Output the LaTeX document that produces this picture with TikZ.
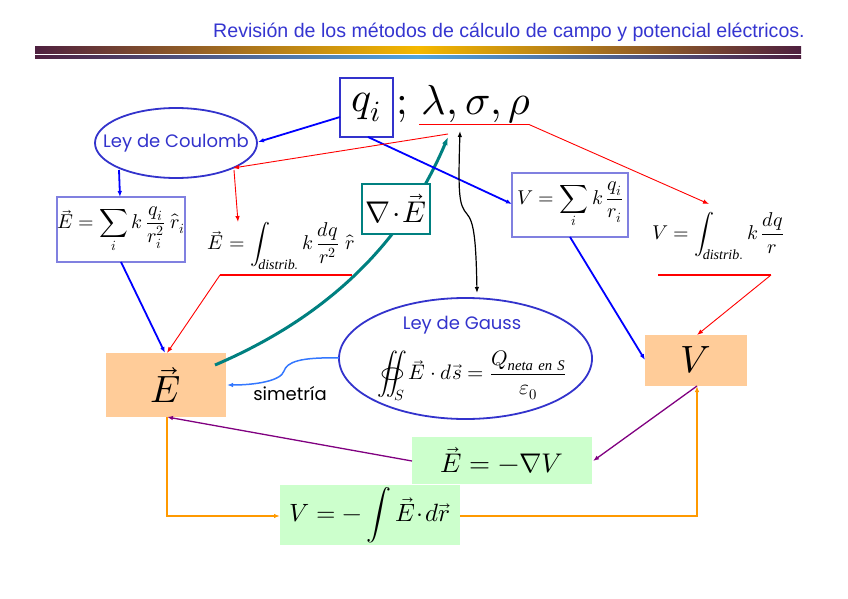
\documentclass[tikz,border=0pt]{standalone}
\usepackage{fontspec}
\usepackage{unicode-math}
\setmainfont{Liberation Serif}
\setmathfont{Latin Modern Math}
\newfontfamily\arialf{Liberation Sans}
\newfontfamily\comicf{Poppins}
\usetikzlibrary{arrows.meta,shapes.geometric}
\definecolor{titleblue}{HTML}{3535D0}
\definecolor{boxblue}{HTML}{3333CC}
\definecolor{lightboxblue}{HTML}{8080E0}
\definecolor{barpurple}{HTML}{4E2040}
\definecolor{bargold}{HTML}{F5B800}
\definecolor{barblue}{HTML}{4FA3E0}
\definecolor{tealc}{HTML}{008080}
\definecolor{orangefill}{HTML}{FFCC99}
\definecolor{greenfill}{HTML}{CCFFCC}
\definecolor{purplec}{HTML}{800080}
\definecolor{orangec}{HTML}{FF9900}
\definecolor{simblue}{HTML}{3377FF}
\tikzset{
  tip/.style={-{Latex[length=6pt,width=4.5pt]}},
  bluearr/.style={tip, draw=blue, line width=1.8pt},
  redarr/.style={tip, draw=red, line width=0.9pt},
  redline/.style={draw=red, line width=1.6pt},
  purplearr/.style={tip, draw=purplec, line width=1.3pt},
  orangearr/.style={tip, draw=orangec, line width=1.6pt},
  formulabox/.style={draw=lightboxblue, line width=1.3pt, fill=white, inner sep=0pt},
  bigbox/.style={fill=orangefill, inner sep=0pt},
  greenbox/.style={fill=greenfill, inner sep=0pt},
  lawellipse/.style={ellipse, draw=boxblue, line width=1.8pt, fill=white, inner sep=0pt},
  comictext/.style={font=\comicf\fontsize{18}{20}\selectfont, text=boxblue},
}
\begin{document}
\begin{tikzpicture}[x=1pt,y=-1pt]
\useasboundingbox (0,0) rectangle (848,599);
% title and bar
\node[anchor=east, text=titleblue, font=\arialf\fontsize{19.6}{22}\selectfont, inner sep=0pt] (title) at (805,32) {Revisión de los métodos de cálculo de campo y potencial eléctricos.};
\shade[left color=barpurple, right color=bargold] (35,46.5) rectangle (418,53.5);
\shade[left color=bargold, right color=barpurple] (417.5,46.5) rectangle (801,53.5);
\shade[left color=barpurple, right color=barblue] (35,56) rectangle (418,59);
\shade[left color=barblue, right color=barpurple] (417.5,56) rectangle (801,59);

% charge box and densities
\node[draw=boxblue, line width=1.5pt, minimum width=53pt, minimum height=59pt, inner sep=0pt, font=\fontsize{42}{44}\selectfont] (qi) at (366.5,107.5) {$q_i$};
\node[anchor=west, inner sep=0pt, font=\fontsize{42}{44}\selectfont] (lsr) at (396,104) {$;\,\lambda,\sigma,\rho$};
\coordinate (ulA) at (419,124.5);
\coordinate (ulB) at (529,124.5);
\draw[redline] (ulA) -- (ulB);

% Coulomb ellipse
\node[lawellipse, minimum width=162pt, minimum height=70pt] (coul) at (176,143) {};
\node[comictext] (coultxt) at (176,143) {Ley de Coulomb};

% E sum box
\node[formulabox, minimum width=128pt, minimum height=65pt, font=\fontsize{20}{24}\selectfont] (Esum) at (121,229.5) {$\displaystyle \vec E=\sum_i k\,\frac{q_i}{r_i^2}\;\hat r_i$};

% E integral
\node[inner sep=0pt, font=\fontsize{20}{24}\selectfont] (Eint) at (281,246) {$\displaystyle \vec E=\int_{\mathit{distrib.}} k\,\frac{dq}{r^2}\;\hat r$};
\coordinate (eulA) at (220,275);
\coordinate (eulB) at (352,275);
\draw[redline] (eulA) -- (eulB);

% V sum box
\node[formulabox, minimum width=116pt, minimum height=64pt, font=\fontsize{20}{24}\selectfont] (Vsum) at (570,205) {$\displaystyle V=\sum_i k\,\frac{q_i}{r_i}$};

% V integral
\node[inner sep=0pt, font=\fontsize{20}{24}\selectfont] (Vint) at (718,236) {$\displaystyle V=\int_{\mathit{distrib.}} k\,\frac{dq}{r}$};
\coordinate (vulA) at (658,275);
\coordinate (vulB) at (771,275);
\draw[redline] (vulA) -- (vulB);

% E and V boxes
\node[bigbox, minimum width=120pt, minimum height=64pt, font=\fontsize{38}{40}\selectfont] (Ebox) at (166,385) {$\vec E$};
\node[bigbox, minimum width=102pt, minimum height=51pt, font=\fontsize{38}{40}\selectfont] (Vbox) at (696,360) {$V$};

% teal curve (behind div box)
\coordinate (tealstart) at (215,365);
\coordinate (tealend) at (448,137);
\draw[tealc, line width=3pt, -{Latex[length=8pt,width=6pt]}] (tealstart) .. controls (320,320) and (400,250) .. (tealend);
\node[draw=tealc, line width=1.3pt, fill=white, minimum width=68pt, minimum height=50pt, inner sep=0pt, font=\fontsize{30}{32}\selectfont] (divE) at (396,209) {$\nabla\!\cdot\!\vec E$};

% Gauss ellipse
\node[lawellipse, minimum width=253pt, minimum height=121pt] (gauss) at (465.5,358.5) {};
\node[comictext] (gausstxt) at (462,325) {Ley de Gauss};
\node[inner sep=0pt, font=\fontsize{21}{24}\selectfont] (gaussf) at (472,376) {$\displaystyle \oiint_S \vec E\cdot d\vec s=\frac{Q_{\mathit{neta\ en\ S}}}{\varepsilon_0}$};

% green boxes
\node[greenbox, minimum width=180pt, minimum height=47pt, font=\fontsize{27}{30}\selectfont] (EgradV) at (502,460.5) {$\vec E=-\nabla V$};
\node[greenbox, minimum width=180pt, minimum height=60pt, font=\fontsize{25}{28}\selectfont] (VintE) at (370,515) {$V=-\displaystyle\int \vec E\!\cdot\! d\vec r$};

% simetria label
\node[font=\comicf\fontsize{18}{20}\selectfont, text=black, inner sep=0pt] (sim) at (290,394) {simetría};

% blue connectors
\coordinate (qiw) at (340,117);
\coordinate (coulE) at (258,142);
\draw[bluearr] (qiw) -- (coulE);
\coordinate (coulbot) at (119,170);
\coordinate (Esumtop) at (120,197);
\draw[bluearr] (coulbot) -- (Esumtop);
\coordinate (qibot) at (368,137);
\coordinate (Vsumleft) at (512,204);
\draw[bluearr] (qibot) -- (Vsumleft);
\coordinate (Esumbot) at (121,262);
\coordinate (Eboxtopb) at (165,353);
\draw[bluearr] (Esumbot) -- (Eboxtopb);
\coordinate (Vsumbot) at (570,237);
\coordinate (Vboxleft) at (645,360);
\draw[bluearr] (Vsumbot) -- (Vboxleft);

% red arrows
\coordinate (redA) at (448,134);
\coordinate (coulSE) at (233,168);
\draw[redarr] (redA) -- (coulSE);
\coordinate (coulSE2) at (234,170);
\coordinate (Einttop) at (238,222);
\draw[redarr] (coulSE2) -- (Einttop);
\coordinate (Vinttop) at (709,204);
\draw[redarr] (ulB) -- (Vinttop);
\coordinate (Eboxtop) at (167,353);
\draw[redarr] (eulA) -- (Eboxtop);
\coordinate (Vboxtop) at (697,335);
\draw[redarr] (vulB) -- (Vboxtop);

% black double arrow
\coordinate (bkTop) at (460,131);
\coordinate (bkBot) at (477,293);
\draw[black, line width=1.2pt, {Latex[length=6pt,width=4.5pt]}-{Latex[length=6pt,width=4.5pt]}] (bkTop) .. controls (458,195) and (459,205) .. (467,214) .. controls (474,222) and (476,240) .. (bkBot);

% simetria arrow
\coordinate (gaussW) at (339,358);
\coordinate (Eboxright) at (227,385);
\draw[tip, draw=simblue, line width=1.5pt] (gaussW) .. controls (300,357) and (287,362) .. (284,371) .. controls (281,381) and (255,385) .. (Eboxright);

% purple arrows
\coordinate (Vboxbot) at (697,386);
\coordinate (EgradVright) at (593,461);
\draw[purplearr] (Vboxbot) -- (EgradVright);
\coordinate (EgradVleft) at (412,461);
\coordinate (Eboxbot) at (167,417);
\draw[purplearr] (EgradVleft) -- (Eboxbot);

% orange arrows
\coordinate (VintEleft) at (280,516);
\coordinate (VintEright) at (460,516);
\draw[orangearr] (Eboxbot) -- (Eboxbot |- VintEleft) -- (VintEleft);
\draw[orangearr] (VintEright) -- (Vboxbot |- VintEright) -- (Vboxbot);
\end{tikzpicture}
\end{document}
